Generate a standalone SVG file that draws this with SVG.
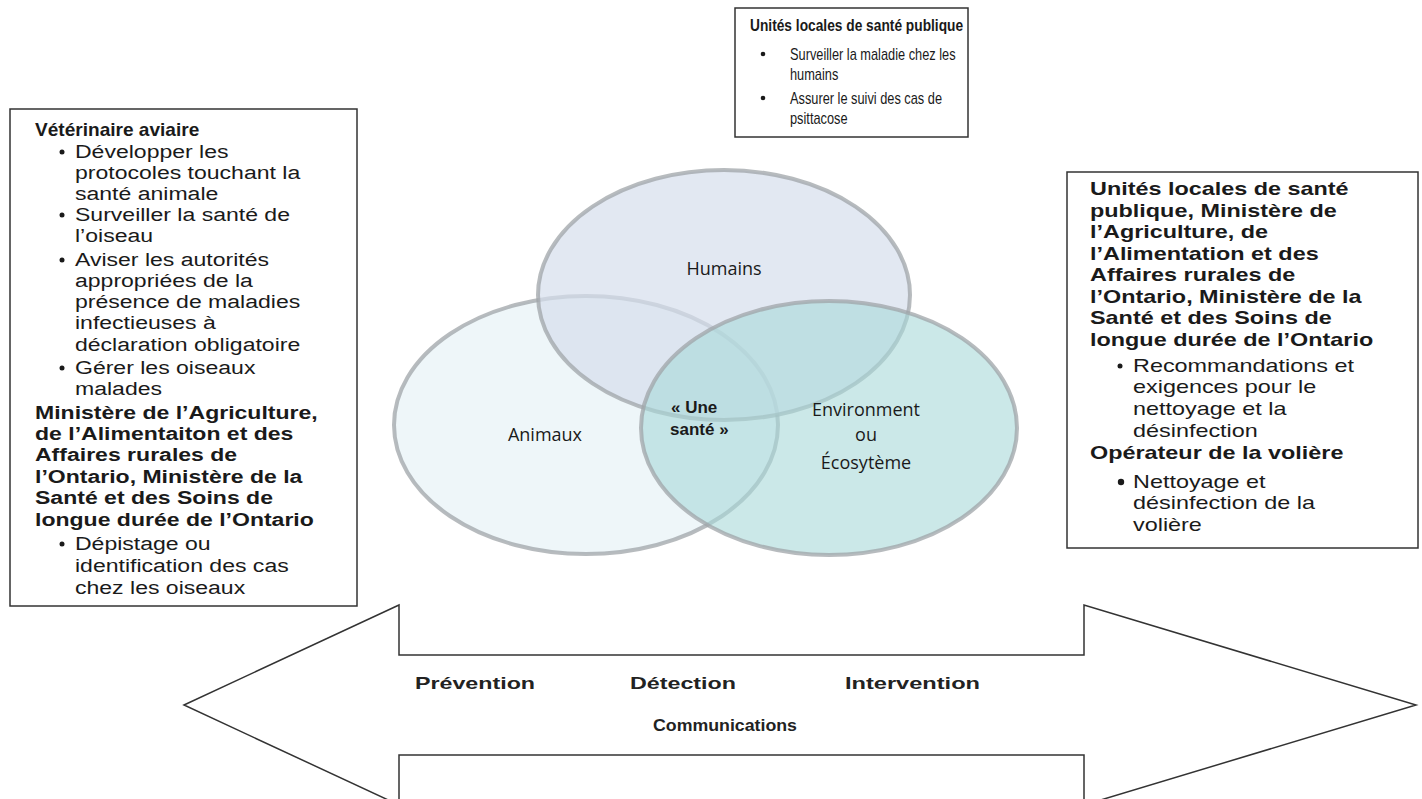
<svg xmlns="http://www.w3.org/2000/svg" width="1422" height="799" viewBox="0 0 1422 799">
<style>
.box{fill:#fff;stroke:#333;stroke-width:1.5}
.b{font-family:"Liberation Sans",Arial,sans-serif;font-weight:bold;font-size:18px;fill:#1a1a1a}
.r{font-family:"Liberation Sans",Arial,sans-serif;font-size:18px;fill:#1a1a1a}
.t{font-family:"Liberation Sans",Arial,sans-serif;font-size:16px;fill:#1a1a1a}
.tb{font-family:"Liberation Sans",Arial,sans-serif;font-weight:bold;font-size:16px;fill:#1a1a1a}
.dot{fill:#1a1a1a}
.v{font-family:"Open Sans","DejaVu Sans",sans-serif;font-size:18px;fill:#1a1a1a;text-anchor:middle}
.vb{font-family:"Liberation Sans",Arial,sans-serif;font-weight:bold;font-size:17px;fill:#1a1a1a}
.a{font-family:"Liberation Sans",Arial,sans-serif;font-weight:bold;font-size:17px;fill:#222}
.ring{stroke:#9fa4a8;stroke-width:4;stroke-opacity:0.75}
</style>
<rect width="1422" height="799" fill="#fff"/>

<g id="arrow">
<path d="M184,705 L399,605 L399,655 L1084,655 L1084,605 L1416,705 L1084,805 L1084,755 L399,755 L399,805 Z" fill="#fff" stroke="#333" stroke-width="1.5"/>
<text class="a" x="415" y="689" textLength="120" lengthAdjust="spacingAndGlyphs">Prévention</text>
<text class="a" x="630" y="689" textLength="106" lengthAdjust="spacingAndGlyphs">Détection</text>
<text class="a" x="845" y="689" textLength="135" lengthAdjust="spacingAndGlyphs">Intervention</text>
<text class="a" x="653" y="731" textLength="144" lengthAdjust="spacingAndGlyphs">Communications</text>
</g>

<g id="venn">
<g id="animaux">
<ellipse class="ring" cx="586" cy="425" rx="192" ry="129" fill="#eef6f9"/>
<text class="v" x="545" y="441">Animaux</text>
</g>
<g id="humains">
<ellipse class="ring" cx="724" cy="295" rx="186" ry="125" fill="#d5deed" fill-opacity="0.7"/>
<text class="v" x="724" y="275">Humains</text>
</g>
<g id="environnement">
<ellipse class="ring" cx="829" cy="428" rx="188" ry="127" fill="#a9d8d8" fill-opacity="0.6"/>
<text class="v" x="866" y="416">Environment</text>
<text class="v" x="866" y="441">ou</text>
<text class="v" x="866" y="469">Écosytème</text>
</g>
<g id="une-sante">
<text class="vb" x="671" y="413">« Une</text>
<text class="vb" x="670" y="435">santé »</text>
</g>
</g>

<g id="top-box">
<rect class="box" x="735" y="8" width="233" height="129"/>
<circle class="dot" cx="763" cy="54" r="2.3"/>
<circle class="dot" cx="763" cy="98" r="2.3"/>
<g transform="translate(750 0) scale(0.86 1)">
<text class="tb" x="0" y="31">Unités locales de santé publique</text>
</g>
<g transform="translate(790 0) scale(0.8 1)">
<text class="t" x="0" y="60">Surveiller la maladie chez les</text>
<text class="t" x="0" y="80">humains</text>
<text class="t" x="0" y="104">Assurer le suivi des cas de</text>
<text class="t" x="0" y="124">psittacose</text>
</g>
</g>

<g id="left-box">
<rect class="box" x="10" y="109" width="347" height="497"/>
<circle class="dot" cx="62" cy="152" r="2.5"/>
<circle class="dot" cx="62" cy="215" r="2.5"/>
<circle class="dot" cx="62" cy="260" r="2.5"/>
<circle class="dot" cx="62" cy="368" r="2.5"/>
<circle class="dot" cx="62" cy="544" r="2.5"/>
<g transform="translate(35 0) scale(1.06 1)">
<text class="b" x="0" y="136">Vétérinaire aviaire</text>
</g>
<g transform="translate(35 0) scale(1.28 1)">
<text class="r" x="31.25" y="158">Développer les</text>
<text class="r" x="31.25" y="179">protocoles touchant la</text>
<text class="r" x="31.25" y="200">santé animale</text>
<text class="r" x="31.25" y="221">Surveiller la santé de</text>
<text class="r" x="31.25" y="242">l’oiseau</text>
<text class="r" x="31.25" y="266">Aviser les autorités</text>
<text class="r" x="31.25" y="287">appropriées de la</text>
<text class="r" x="31.25" y="308">présence de maladies</text>
<text class="r" x="31.25" y="329">infectieuses à</text>
<text class="r" x="31.25" y="351">déclaration obligatoire</text>
<text class="r" x="31.25" y="374">Gérer les oiseaux</text>
<text class="r" x="31.25" y="395">malades</text>
<text class="b" x="0" y="419">Ministère de l’Agriculture,</text>
<text class="b" x="0" y="440">de l’Alimentaiton et des</text>
<text class="b" x="0" y="461">Affaires rurales de</text>
<text class="b" x="0" y="483">l’Ontario, Ministère de la</text>
<text class="b" x="0" y="504">Santé et des Soins de</text>
<text class="b" x="0" y="526">longue durée de l’Ontario</text>
<text class="r" x="31.25" y="550">Dépistage ou</text>
<text class="r" x="31.25" y="572">identification des cas</text>
<text class="r" x="31.25" y="594">chez les oiseaux</text>
</g>
</g>

<g id="right-box">
<rect class="box" x="1067" y="172" width="351" height="376"/>
<circle class="dot" cx="1120" cy="366" r="2.5"/>
<circle class="dot" cx="1121" cy="482" r="3.2"/>
<g transform="translate(1090 0) scale(1.3 1)">
<text class="b" x="0" y="195">Unités locales de santé</text>
<text class="b" x="0" y="217">publique, Ministère de</text>
<text class="b" x="0" y="238">l’Agriculture, de</text>
<text class="b" x="0" y="260">l’Alimentation et des</text>
<text class="b" x="0" y="281">Affaires rurales de</text>
<text class="b" x="0" y="303">l’Ontario, Ministère de la</text>
<text class="b" x="0" y="324">Santé et des Soins de</text>
<text class="b" x="0" y="346">longue durée de l’Ontario</text>
<text class="r" x="33.08" y="372">Recommandations et</text>
<text class="r" x="33.08" y="393">exigences pour le</text>
<text class="r" x="33.08" y="415">nettoyage et la</text>
<text class="r" x="33.08" y="437">désinfection</text>
<text class="b" x="0" y="459">Opérateur de la volière</text>
<text class="r" x="33.08" y="488">Nettoyage et</text>
<text class="r" x="33.08" y="509">désinfection de la</text>
<text class="r" x="33.08" y="531">volière</text>
</g>
</g>
</svg>
